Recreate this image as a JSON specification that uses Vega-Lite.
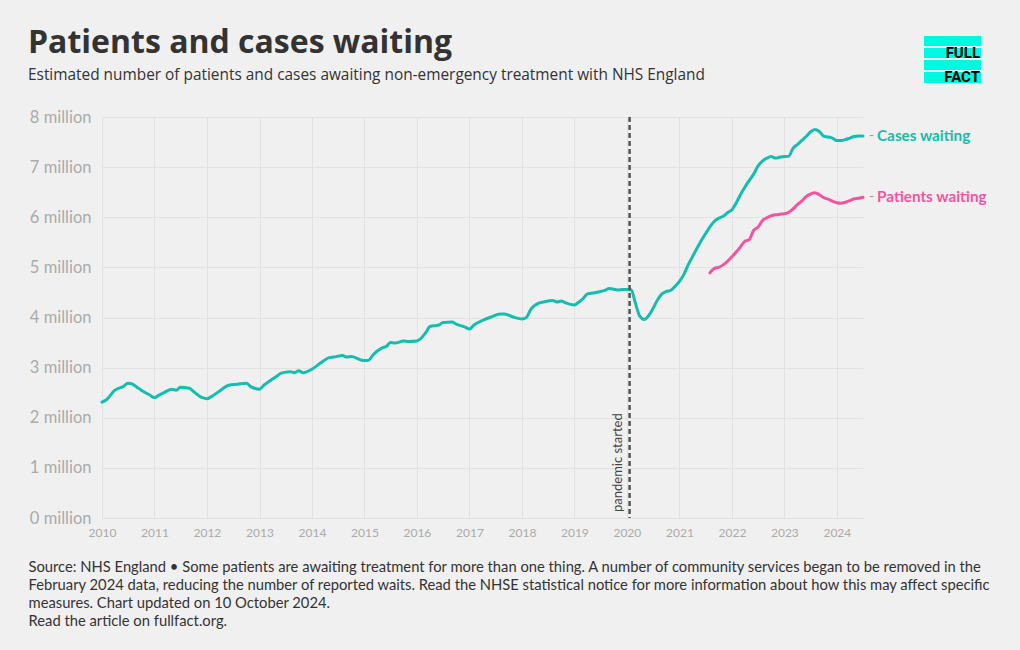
{
  "$schema": "https://vega.github.io/schema/vega-lite/v6.json",
  "width": 761,
  "height": 401,
  "autosize": {"type": "none"},
  "padding": {"left": 102, "top": 117, "right": 157, "bottom": 132},
  "background": "#f0f0f0",
  "config": {
    "font": "Lato",
    "view": {"stroke": null},
    "axis": {"gridColor": "#e2e2e2", "gridWidth": 1, "domain": false, "ticks": false}
  },
  "title": {
    "text": "Patients and cases waiting",
    "subtitle": "Estimated number of patients and cases awaiting non-emergency treatment with NHS England",
    "anchor": "start",
    "frame": "group",
    "dx": -74,
    "offset": -48,
    "font": "Open Sans",
    "fontSize": 32,
    "fontWeight": "bold",
    "color": "#333333",
    "subtitleFont": "Open Sans",
    "subtitleFontSize": 15.4,
    "subtitleColor": "#333333",
    "subtitlePadding": 8
  },
  "datasets": {
    "waits": [
      {"date": "2010-01-01", "series": "Cases waiting", "value": 2.31},
      {"date": "2010-02-01", "series": "Cases waiting", "value": 2.36},
      {"date": "2010-04-01", "series": "Cases waiting", "value": 2.55},
      {"date": "2010-06-01", "series": "Cases waiting", "value": 2.63},
      {"date": "2010-07-01", "series": "Cases waiting", "value": 2.69},
      {"date": "2010-08-01", "series": "Cases waiting", "value": 2.67},
      {"date": "2010-09-01", "series": "Cases waiting", "value": 2.61},
      {"date": "2010-10-01", "series": "Cases waiting", "value": 2.55},
      {"date": "2010-12-01", "series": "Cases waiting", "value": 2.45},
      {"date": "2011-01-01", "series": "Cases waiting", "value": 2.40},
      {"date": "2011-02-01", "series": "Cases waiting", "value": 2.45},
      {"date": "2011-03-01", "series": "Cases waiting", "value": 2.49},
      {"date": "2011-05-01", "series": "Cases waiting", "value": 2.57},
      {"date": "2011-06-01", "series": "Cases waiting", "value": 2.55},
      {"date": "2011-07-01", "series": "Cases waiting", "value": 2.61},
      {"date": "2011-09-01", "series": "Cases waiting", "value": 2.59},
      {"date": "2011-10-01", "series": "Cases waiting", "value": 2.52},
      {"date": "2011-12-01", "series": "Cases waiting", "value": 2.40},
      {"date": "2012-01-01", "series": "Cases waiting", "value": 2.38},
      {"date": "2012-02-01", "series": "Cases waiting", "value": 2.42},
      {"date": "2012-04-01", "series": "Cases waiting", "value": 2.54},
      {"date": "2012-06-01", "series": "Cases waiting", "value": 2.65},
      {"date": "2012-08-01", "series": "Cases waiting", "value": 2.67},
      {"date": "2012-10-01", "series": "Cases waiting", "value": 2.69},
      {"date": "2012-11-01", "series": "Cases waiting", "value": 2.62},
      {"date": "2013-01-01", "series": "Cases waiting", "value": 2.57},
      {"date": "2013-02-01", "series": "Cases waiting", "value": 2.65},
      {"date": "2013-05-01", "series": "Cases waiting", "value": 2.83},
      {"date": "2013-06-01", "series": "Cases waiting", "value": 2.89},
      {"date": "2013-08-01", "series": "Cases waiting", "value": 2.92},
      {"date": "2013-09-01", "series": "Cases waiting", "value": 2.90},
      {"date": "2013-10-01", "series": "Cases waiting", "value": 2.94},
      {"date": "2013-11-01", "series": "Cases waiting", "value": 2.90},
      {"date": "2014-01-01", "series": "Cases waiting", "value": 2.97},
      {"date": "2014-03-01", "series": "Cases waiting", "value": 3.09},
      {"date": "2014-05-01", "series": "Cases waiting", "value": 3.20},
      {"date": "2014-06-01", "series": "Cases waiting", "value": 3.21},
      {"date": "2014-08-01", "series": "Cases waiting", "value": 3.24},
      {"date": "2014-09-01", "series": "Cases waiting", "value": 3.21},
      {"date": "2014-10-01", "series": "Cases waiting", "value": 3.22},
      {"date": "2014-12-01", "series": "Cases waiting", "value": 3.16},
      {"date": "2015-01-01", "series": "Cases waiting", "value": 3.14},
      {"date": "2015-02-01", "series": "Cases waiting", "value": 3.15},
      {"date": "2015-03-01", "series": "Cases waiting", "value": 3.25},
      {"date": "2015-05-01", "series": "Cases waiting", "value": 3.39},
      {"date": "2015-06-01", "series": "Cases waiting", "value": 3.42},
      {"date": "2015-07-01", "series": "Cases waiting", "value": 3.50},
      {"date": "2015-08-01", "series": "Cases waiting", "value": 3.49},
      {"date": "2015-10-01", "series": "Cases waiting", "value": 3.53},
      {"date": "2015-11-01", "series": "Cases waiting", "value": 3.52},
      {"date": "2016-01-01", "series": "Cases waiting", "value": 3.53},
      {"date": "2016-03-01", "series": "Cases waiting", "value": 3.69},
      {"date": "2016-04-01", "series": "Cases waiting", "value": 3.82},
      {"date": "2016-06-01", "series": "Cases waiting", "value": 3.85},
      {"date": "2016-07-01", "series": "Cases waiting", "value": 3.90},
      {"date": "2016-09-01", "series": "Cases waiting", "value": 3.91},
      {"date": "2016-10-01", "series": "Cases waiting", "value": 3.87},
      {"date": "2016-12-01", "series": "Cases waiting", "value": 3.81},
      {"date": "2017-01-01", "series": "Cases waiting", "value": 3.77},
      {"date": "2017-02-01", "series": "Cases waiting", "value": 3.85},
      {"date": "2017-04-01", "series": "Cases waiting", "value": 3.94},
      {"date": "2017-06-01", "series": "Cases waiting", "value": 4.01},
      {"date": "2017-08-01", "series": "Cases waiting", "value": 4.07},
      {"date": "2017-09-01", "series": "Cases waiting", "value": 4.07},
      {"date": "2017-11-01", "series": "Cases waiting", "value": 4.01},
      {"date": "2018-01-01", "series": "Cases waiting", "value": 3.97},
      {"date": "2018-02-01", "series": "Cases waiting", "value": 4.00},
      {"date": "2018-03-01", "series": "Cases waiting", "value": 4.15},
      {"date": "2018-05-01", "series": "Cases waiting", "value": 4.29},
      {"date": "2018-06-01", "series": "Cases waiting", "value": 4.31},
      {"date": "2018-08-01", "series": "Cases waiting", "value": 4.34},
      {"date": "2018-09-01", "series": "Cases waiting", "value": 4.31},
      {"date": "2018-10-01", "series": "Cases waiting", "value": 4.33},
      {"date": "2018-11-01", "series": "Cases waiting", "value": 4.29},
      {"date": "2019-01-01", "series": "Cases waiting", "value": 4.25},
      {"date": "2019-02-01", "series": "Cases waiting", "value": 4.31},
      {"date": "2019-03-01", "series": "Cases waiting", "value": 4.37},
      {"date": "2019-04-01", "series": "Cases waiting", "value": 4.47},
      {"date": "2019-06-01", "series": "Cases waiting", "value": 4.50},
      {"date": "2019-08-01", "series": "Cases waiting", "value": 4.54},
      {"date": "2019-09-01", "series": "Cases waiting", "value": 4.58},
      {"date": "2019-11-01", "series": "Cases waiting", "value": 4.55},
      {"date": "2019-12-01", "series": "Cases waiting", "value": 4.56},
      {"date": "2020-01-01", "series": "Cases waiting", "value": 4.56},
      {"date": "2020-02-01", "series": "Cases waiting", "value": 4.55},
      {"date": "2020-03-01", "series": "Cases waiting", "value": 4.28},
      {"date": "2020-04-01", "series": "Cases waiting", "value": 4.02},
      {"date": "2020-05-01", "series": "Cases waiting", "value": 3.96},
      {"date": "2020-06-01", "series": "Cases waiting", "value": 4.04},
      {"date": "2020-07-01", "series": "Cases waiting", "value": 4.18},
      {"date": "2020-08-01", "series": "Cases waiting", "value": 4.35},
      {"date": "2020-09-01", "series": "Cases waiting", "value": 4.47},
      {"date": "2020-10-01", "series": "Cases waiting", "value": 4.52},
      {"date": "2020-11-01", "series": "Cases waiting", "value": 4.54},
      {"date": "2020-12-01", "series": "Cases waiting", "value": 4.62},
      {"date": "2021-01-01", "series": "Cases waiting", "value": 4.72},
      {"date": "2021-02-01", "series": "Cases waiting", "value": 4.86},
      {"date": "2021-03-01", "series": "Cases waiting", "value": 5.04},
      {"date": "2021-04-01", "series": "Cases waiting", "value": 5.21},
      {"date": "2021-05-01", "series": "Cases waiting", "value": 5.37},
      {"date": "2021-06-01", "series": "Cases waiting", "value": 5.53},
      {"date": "2021-07-01", "series": "Cases waiting", "value": 5.67},
      {"date": "2021-08-01", "series": "Cases waiting", "value": 5.81},
      {"date": "2021-09-01", "series": "Cases waiting", "value": 5.92},
      {"date": "2021-10-01", "series": "Cases waiting", "value": 5.98},
      {"date": "2021-11-01", "series": "Cases waiting", "value": 6.02},
      {"date": "2021-12-01", "series": "Cases waiting", "value": 6.09},
      {"date": "2022-01-01", "series": "Cases waiting", "value": 6.15},
      {"date": "2022-02-01", "series": "Cases waiting", "value": 6.29},
      {"date": "2022-03-01", "series": "Cases waiting", "value": 6.45},
      {"date": "2022-04-01", "series": "Cases waiting", "value": 6.60},
      {"date": "2022-05-01", "series": "Cases waiting", "value": 6.73},
      {"date": "2022-06-01", "series": "Cases waiting", "value": 6.86},
      {"date": "2022-07-01", "series": "Cases waiting", "value": 7.02},
      {"date": "2022-08-01", "series": "Cases waiting", "value": 7.12},
      {"date": "2022-09-01", "series": "Cases waiting", "value": 7.18},
      {"date": "2022-10-01", "series": "Cases waiting", "value": 7.21},
      {"date": "2022-11-01", "series": "Cases waiting", "value": 7.18},
      {"date": "2022-12-01", "series": "Cases waiting", "value": 7.20},
      {"date": "2023-01-01", "series": "Cases waiting", "value": 7.21},
      {"date": "2023-02-01", "series": "Cases waiting", "value": 7.22},
      {"date": "2023-03-01", "series": "Cases waiting", "value": 7.37},
      {"date": "2023-04-01", "series": "Cases waiting", "value": 7.45},
      {"date": "2023-05-01", "series": "Cases waiting", "value": 7.53},
      {"date": "2023-06-01", "series": "Cases waiting", "value": 7.61},
      {"date": "2023-07-01", "series": "Cases waiting", "value": 7.70},
      {"date": "2023-08-01", "series": "Cases waiting", "value": 7.75},
      {"date": "2023-09-01", "series": "Cases waiting", "value": 7.71},
      {"date": "2023-10-01", "series": "Cases waiting", "value": 7.62},
      {"date": "2023-11-01", "series": "Cases waiting", "value": 7.60},
      {"date": "2023-12-01", "series": "Cases waiting", "value": 7.58},
      {"date": "2024-01-01", "series": "Cases waiting", "value": 7.53},
      {"date": "2024-02-01", "series": "Cases waiting", "value": 7.53},
      {"date": "2024-03-01", "series": "Cases waiting", "value": 7.55},
      {"date": "2024-04-01", "series": "Cases waiting", "value": 7.58},
      {"date": "2024-05-01", "series": "Cases waiting", "value": 7.61},
      {"date": "2024-06-01", "series": "Cases waiting", "value": 7.62},
      {"date": "2024-07-01", "series": "Cases waiting", "value": 7.62},
      {"date": "2021-08-01", "series": "Patients waiting", "value": 4.89},
      {"date": "2021-09-01", "series": "Patients waiting", "value": 4.98},
      {"date": "2021-10-01", "series": "Patients waiting", "value": 5.00},
      {"date": "2021-11-01", "series": "Patients waiting", "value": 5.05},
      {"date": "2021-12-01", "series": "Patients waiting", "value": 5.12},
      {"date": "2022-01-01", "series": "Patients waiting", "value": 5.21},
      {"date": "2022-02-01", "series": "Patients waiting", "value": 5.31},
      {"date": "2022-03-01", "series": "Patients waiting", "value": 5.41},
      {"date": "2022-04-01", "series": "Patients waiting", "value": 5.52},
      {"date": "2022-05-01", "series": "Patients waiting", "value": 5.55},
      {"date": "2022-06-01", "series": "Patients waiting", "value": 5.74},
      {"date": "2022-07-01", "series": "Patients waiting", "value": 5.80},
      {"date": "2022-08-01", "series": "Patients waiting", "value": 5.93},
      {"date": "2022-09-01", "series": "Patients waiting", "value": 5.99},
      {"date": "2022-10-01", "series": "Patients waiting", "value": 6.03},
      {"date": "2022-11-01", "series": "Patients waiting", "value": 6.05},
      {"date": "2022-12-01", "series": "Patients waiting", "value": 6.06},
      {"date": "2023-01-01", "series": "Patients waiting", "value": 6.07},
      {"date": "2023-02-01", "series": "Patients waiting", "value": 6.10},
      {"date": "2023-03-01", "series": "Patients waiting", "value": 6.16},
      {"date": "2023-04-01", "series": "Patients waiting", "value": 6.25},
      {"date": "2023-05-01", "series": "Patients waiting", "value": 6.32},
      {"date": "2023-06-01", "series": "Patients waiting", "value": 6.41},
      {"date": "2023-07-01", "series": "Patients waiting", "value": 6.46},
      {"date": "2023-08-01", "series": "Patients waiting", "value": 6.49},
      {"date": "2023-09-01", "series": "Patients waiting", "value": 6.45},
      {"date": "2023-10-01", "series": "Patients waiting", "value": 6.39},
      {"date": "2023-11-01", "series": "Patients waiting", "value": 6.36},
      {"date": "2023-12-01", "series": "Patients waiting", "value": 6.32},
      {"date": "2024-01-01", "series": "Patients waiting", "value": 6.29},
      {"date": "2024-02-01", "series": "Patients waiting", "value": 6.28},
      {"date": "2024-03-01", "series": "Patients waiting", "value": 6.30},
      {"date": "2024-04-01", "series": "Patients waiting", "value": 6.33},
      {"date": "2024-05-01", "series": "Patients waiting", "value": 6.37},
      {"date": "2024-06-01", "series": "Patients waiting", "value": 6.38},
      {"date": "2024-07-01", "series": "Patients waiting", "value": 6.40}
    ],
    "events": [{"date": "2020-01-20", "label": "pandemic started"}]
  },
  "layer": [
    {
      "data": {"name": "waits"},
      "mark": {"type": "line", "strokeWidth": 3, "interpolate": "monotone", "strokeCap": "round", "strokeJoin": "round"},
      "encoding": {
        "x": {
          "field": "date", "type": "temporal",
          "scale": {"domain": ["2010-01-01", "2024-07-01"]},
          "axis": {
            "format": "%Y",
            "tickCount": {"interval": "year", "step": 1},
            "labelColor": "#aaaaaa",
            "labelFontSize": 12,
            "labelPadding": 9,
            "labelFlush": false,
            "labelOverlap": false,
            "grid": true,
            "title": [
              "Source: NHS England • Some patients are awaiting treatment for more than one thing. A number of community services began to be removed in the",
              "February 2024 data, reducing the number of reported waits. Read the NHSE statistical notice for more information about how this may affect specific",
              "measures. Chart updated on 10 October 2024.",
              "Read the article on fullfact.org."
            ],
            "titleAnchor": "start",
            "titleAlign": "left",
            "titleBaseline": "top",
            "titleX": -74,
            "titleY": 41,
            "titleFont": "Lato",
            "titleFontSize": 14.75,
            "titleFontWeight": "normal",
            "titleColor": "#333333",
            "titleLineHeight": 18
          }
        },
        "y": {
          "field": "value", "type": "quantitative",
          "scale": {"domain": [0, 8]},
          "axis": {
            "values": [0, 1, 2, 3, 4, 5, 6, 7, 8],
            "labelExpr": "datum.value + ' million'",
            "labelColor": "#aaaaaa",
            "labelFontSize": 16.5,
            "labelPadding": 11,
            "title": null
          }
        },
        "color": {
          "field": "series", "type": "nominal",
          "scale": {"domain": ["Cases waiting", "Patients waiting"], "range": ["#14bdad", "#f2559f"]},
          "legend": null
        }
      }
    },
    {
      "data": {"name": "events"},
      "mark": {"type": "rule", "color": "#555555", "strokeWidth": 2.5, "strokeDash": [5, 3]},
      "encoding": {
        "x": {"field": "date", "type": "temporal"}
      }
    },
    {
      "data": {"name": "events"},
      "mark": {"type": "text", "angle": 270, "align": "left", "baseline": "bottom", "dx": 6, "dy": -5, "fontSize": 13, "color": "#444444", "font": "Lato"},
      "encoding": {
        "x": {"field": "date", "type": "temporal"},
        "y": {"datum": 0},
        "text": {"field": "label"}
      }
    },
    {
      "data": {"name": "waits"},
      "transform": [{"filter": "utcyear(datum.date) == 2024 && utcmonth(datum.date) == 6"}],
      "mark": {"type": "text", "align": "left", "baseline": "middle", "dx": 6, "fontSize": 14, "color": "#999999", "text": "-"},
      "encoding": {
        "x": {"field": "date", "type": "temporal"},
        "y": {"field": "value", "type": "quantitative"}
      }
    },
    {
      "data": {"name": "waits"},
      "transform": [{"filter": "utcyear(datum.date) == 2024 && utcmonth(datum.date) == 6"}],
      "mark": {"type": "text", "align": "left", "baseline": "middle", "dx": 14, "fontSize": 15.3, "fontWeight": "bold", "font": "Lato"},
      "encoding": {
        "x": {"field": "date", "type": "temporal"},
        "y": {"field": "value", "type": "quantitative"},
        "text": {"field": "series"},
        "color": {"field": "series", "type": "nominal", "legend": null}
      }
    },
    {
      "data": {"values": [{}]},
      "mark": {"type": "rect", "color": "#00f7e2"},
      "encoding": {
        "x": {"value": 822},
        "x2": {"value": 879},
        "y": {"value": -81},
        "y2": {"value": -34}
      }
    },
    {
      "data": {"values": [{}]},
      "mark": {"type": "rect", "color": "#e6fffb"},
      "encoding": {"x": {"value": 822}, "x2": {"value": 879}, "y": {"value": -71}, "y2": {"value": -69}}
    },
    {
      "data": {"values": [{}]},
      "mark": {"type": "rect", "color": "#e6fffb"},
      "encoding": {"x": {"value": 822}, "x2": {"value": 879}, "y": {"value": -59}, "y2": {"value": -57}}
    },
    {
      "data": {"values": [{}]},
      "mark": {"type": "rect", "color": "#e6fffb"},
      "encoding": {"x": {"value": 822}, "x2": {"value": 879}, "y": {"value": -47}, "y2": {"value": -45}}
    },
    {
      "data": {"values": [{"t": "FULL"}]},
      "mark": {"type": "text", "align": "right", "baseline": "alphabetic", "fontSize": 15, "fontWeight": "bold", "font": "Roboto", "color": "#000000"},
      "encoding": {"x": {"value": 878}, "y": {"value": -59}, "text": {"field": "t"}}
    },
    {
      "data": {"values": [{"t": "FACT"}]},
      "mark": {"type": "text", "align": "right", "baseline": "alphabetic", "fontSize": 15, "fontWeight": "bold", "font": "Roboto", "color": "#000000"},
      "encoding": {"x": {"value": 878}, "y": {"value": -35}, "text": {"field": "t"}}
    }
  ]
}
